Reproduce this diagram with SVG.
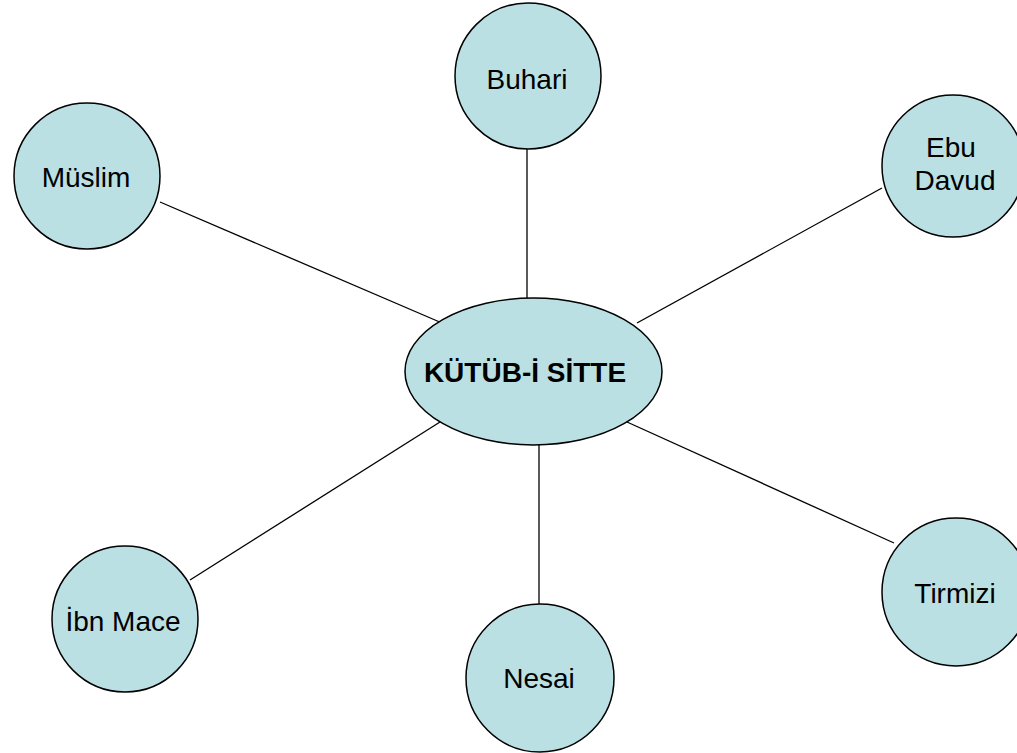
<svg xmlns="http://www.w3.org/2000/svg" width="1017" height="753" viewBox="0 0 1017 753">
<style>
.n{fill:#BBE0E3;stroke:#000;stroke-width:1.5}
.t{font-family:"Liberation Sans",Arial,sans-serif;font-size:28px;fill:#000;text-anchor:middle}
.b{font-weight:bold}
.c line{stroke:#000;stroke-width:1.3}
</style>
<rect width="1017" height="753" fill="#fff"/>
<g id="connectors" class="c">
<line x1="527" y1="148" x2="527" y2="298"/>
<line x1="160" y1="202" x2="442" y2="323"/>
<line x1="882" y1="188" x2="637" y2="323"/>
<line x1="627" y1="422" x2="894" y2="543"/>
<line x1="539" y1="445" x2="539" y2="604"/>
<line x1="190" y1="580" x2="440" y2="422"/>
</g>
<g id="center">
<ellipse class="n" cx="533.5" cy="371.5" rx="128.5" ry="73.5"/>
<text class="t b" x="525" y="382">KÜTÜB-İ SİTTE</text>
</g>
<g id="buhari">
<circle class="n" cx="528" cy="76" r="73"/>
<text class="t" x="527" y="89">Buhari</text>
</g>
<g id="muslim">
<circle class="n" cx="87" cy="176" r="73"/>
<text class="t" x="86" y="187">Müslim</text>
</g>
<g id="ebudavud">
<circle class="n" cx="953" cy="166" r="71"/>
<text class="t" x="951" y="157">Ebu</text>
<text class="t" x="955" y="190">Davud</text>
</g>
<g id="tirmizi">
<circle class="n" cx="956" cy="592" r="74"/>
<text class="t" x="955" y="603">Tirmizi</text>
</g>
<g id="nesai">
<circle class="n" cx="540" cy="678" r="74"/>
<text class="t" x="539" y="688">Nesai</text>
</g>
<g id="ibnmace">
<circle class="n" cx="125" cy="619" r="73"/>
<text class="t" x="123" y="631">İbn Mace</text>
</g>
</svg>
